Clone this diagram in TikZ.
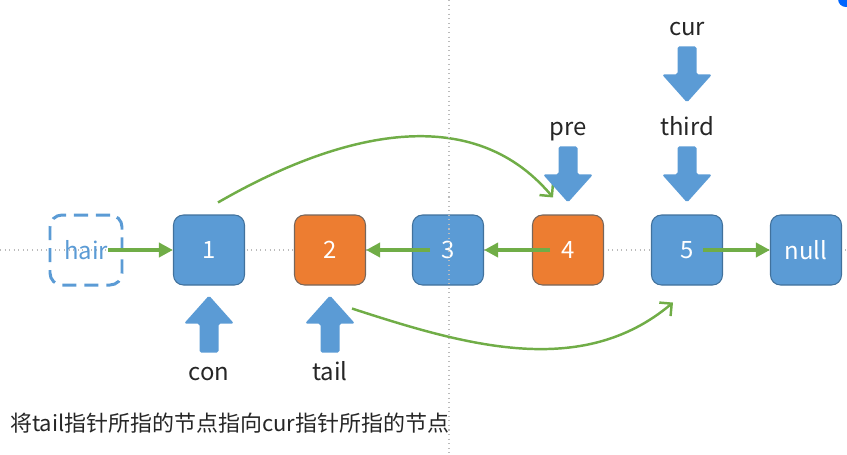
\documentclass[tikz,border=0pt]{standalone}
\usepackage{fontspec}
\setmainfont{Noto Sans CJK SC}
\usepackage{xcolor}
\usepackage{tikz}
\usetikzlibrary{arrows.meta}
\definecolor{nodeblue}{HTML}{5B9BD5}
\definecolor{nodeedge}{HTML}{41719C}
\definecolor{nodeorange}{HTML}{ED7D31}
\definecolor{orangeedge}{HTML}{76665C}
\definecolor{linkgreen}{HTML}{70AD47}
\definecolor{guidegray}{HTML}{BBBBBB}
\tikzstyle{link}  = [linkgreen, line width=2.3pt, -{Triangle[length=8pt,width=8pt]}]
\tikzstyle{curve} = [linkgreen, line width=1.4pt, -{Straight Barb[length=5pt,width=10pt]}]
\tikzset{every node/.style={align=center}}
\tikzset{
  ptrdown/.pic={\fill[nodeblue, rounded corners=1pt] (0,0) -- (0.5,0.56) -- (0.19,0.56)
      -- (0.19,1.12) -- (-0.19,1.12) -- (-0.19,0.56) -- (-0.5,0.56) -- cycle;},
  ptrup/.pic={\fill[nodeblue, rounded corners=1pt] (0,0) -- (0.5,-0.56) -- (0.19,-0.56)
      -- (0.19,-1.14) -- (-0.19,-1.14) -- (-0.19,-0.56) -- (-0.5,-0.56) -- cycle;}
}

\begin{document}
\begin{tikzpicture}[
    box/.style={rectangle, rounded corners=0.2cm, draw=nodeedge, line width=0.6pt, fill=nodeblue,
                minimum width=1.42cm, minimum height=1.4cm, text=white,
                font=\fontsize{13.6}{16}\selectfont},
    hot/.style={box, draw=orangeedge, fill=nodeorange},
    lbl/.style={anchor=base, text=black!85, font=\fontsize{13.6}{16}\selectfont}
]
  \useasboundingbox (0,0) rectangle (16.94,-9.08);
  \clip (0,0) rectangle (16.94,-9.08);

  % --- guide line ---
  \draw[guidegray, dotted, line width=0.6pt] (0,-5.0) -- (16.94,-5.0);

  % --- list nodes ---
  \node[box, fill=none, draw=nodeblue, dash pattern=on 8pt off 4.5pt, line width=1.7pt,
        rounded corners=0.24cm, minimum width=1.44cm, text=nodeblue] (hair) at (1.72,-5.0) {hair};
  \node[box] (n1)   at (4.18, -5.0) {1};
  \node[hot] (n2)   at (6.60, -5.0) {2};
  \node[box] (n3)   at (8.96, -5.0) {3};
  \node[hot] (n4)   at (11.36,-5.0) {4};
  \node[box] (n5)   at (13.74,-5.0) {5};
  \node[box] (null) at (16.12,-5.0) {null};

  % --- next links ---
  \draw[link] ([xshift=0.44cm]hair.center) -- (n1.west);
  \draw[link] ([xshift=-0.36cm]n3.center) -- (n2.east);
  \draw[link] ([xshift=-0.36cm]n4.center) -- (n3.east);
  \draw[link] ([xshift=0.32cm]n5.center)  -- (null.west);
  \draw[curve] ([shift={(0.18,0.24)}]n1.north) to[out=30, in=130]
      ([shift={(-0.3,0.34)}]n4.north);
  \draw[curve] ([shift={(0.44,-0.46)}]n2.south) to[out=-18, in=220, looseness=0.95]
      ([shift={(-0.28,-0.34)}]n5.south);

  % --- pointers ---
  \pic (conptr)   at ([yshift=-0.2cm]n1.south) {ptrup};
  \pic (tailptr)  at ([yshift=-0.2cm]n2.south) {ptrup};
  \pic (preptr)   at ([yshift=0.24cm]n4.north) {ptrdown};
  \pic (thirdptr) at ([yshift=0.24cm]n5.north) {ptrdown};
  \pic (curptr)   at ([yshift=2.24cm]n5.north) {ptrdown};
  \node[lbl] (con)   at (4.18, -7.6)  {con};
  \node[lbl] (tail)  at (6.60, -7.6)  {tail};
  \node[lbl] (pre)   at (11.36,-2.7)  {pre};
  \node[lbl] (third) at (13.74,-2.7)  {third};
  \node[lbl] (cur)   at (13.74,-0.7)  {cur};

  % --- caption ---
  \node[anchor=west, text=black!85, font=\fontsize{12.5}{15}\selectfont] (note) at (0.08,-8.46)
      {将tail指针所指的节点指向cur指针所指的节点};

  % --- guide line and corner mark ---
  \draw[guidegray, dotted, line width=0.6pt] (8.98,0) -- (8.98,-9.08);
  \fill[blue!60!cyan] (16.92,0.02) circle (0.16);
\end{tikzpicture}
\end{document}
